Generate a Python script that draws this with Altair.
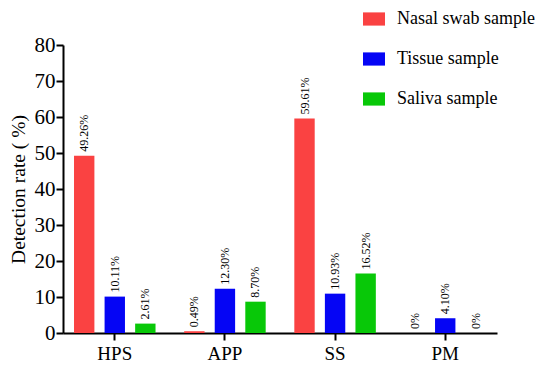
import altair as alt
import pandas as pd

categories = ["HPS", "APP", "SS", "PM"]
series = ["Nasal swab sample", "Tissue sample", "Saliva sample"]
nasal = [49.26, 0.49, 59.61, 0]
tissue = [10.11, 12.30, 10.93, 4.10]
saliva = [2.61, 8.70, 16.52, 0]
nasal_labels = ["49.26%", "0.49%", "59.61%", "0%"]
tissue_labels = ["10.11%", "12.30%", "10.93%", "4.10%"]
saliva_labels = ["2.61%", "8.70%", "16.52%", "0%"]
colors = ["#FA4242", "#0505F5", "#08C808"]

rows = []
for s, vals, labs in zip(series, [nasal, tissue, saliva], [nasal_labels, tissue_labels, saliva_labels]):
    for c, v, l in zip(categories, vals, labs):
        rows.append({"category": c, "series": s, "value": v, "label": l})
df = pd.DataFrame(rows)

FONT = "'Liberation Serif', 'Times New Roman', 'DejaVu Serif', serif"

x = alt.X("category:N", sort=categories,
          scale=alt.Scale(paddingInner=0.26, paddingOuter=0.1),
          axis=alt.Axis(title=None, labelAngle=0, labelPadding=4, labelFontSize=19))
xo = alt.XOffset("series:N", sort=series,
                 scale=alt.Scale(paddingInner=0.333, paddingOuter=0))
y = alt.Y("value:Q", scale=alt.Scale(domain=[0, 80]),
          axis=alt.Axis(values=list(range(0, 81, 10)), title="Detection rate ( %)",
                        labelFontSize=21, labelPadding=1,
                        titleFontSize=19.5, titleFont=FONT, titleFontWeight="normal",
                        titleColor="black", titlePadding=6))

bars = alt.Chart(df).mark_bar().encode(
    x=x, xOffset=xo, y=y,
    color=alt.Color("series:N", sort=series,
                    scale=alt.Scale(domain=series, range=colors),
                    legend=alt.Legend(title=None, orient="none", legendX=300, legendY=-37,
                                      symbolType="M-1,-0.6H1V0.6H-1Z", symbolSize=484,
                                      symbolStrokeWidth=0, labelFont=FONT, labelFontSize=18,
                                      labelColor="black", rowPadding=20, labelOffset=12,
                                      padding=0)),
)

text = alt.Chart(df).mark_text(angle=270, align="left", baseline="middle", dx=4,
                               fontSize=12, font=FONT, color="black").encode(
    x=x, xOffset=xo, y=y, text="label:N")

chart = (bars + text).properties(
    width=434, height=288,
    padding={"left": 55, "top": 37, "right": 45, "bottom": 29},
    autosize=alt.AutoSizeParams(type="none"),
).configure_view(stroke=None).configure_axis(
    grid=False, domainColor="black", domainWidth=2, tickColor="black", tickWidth=2,
    tickSize=7, labelColor="black", labelFont=FONT,
)

chart.save("out.html", embed_options={"renderer": "svg", "actions": False})
